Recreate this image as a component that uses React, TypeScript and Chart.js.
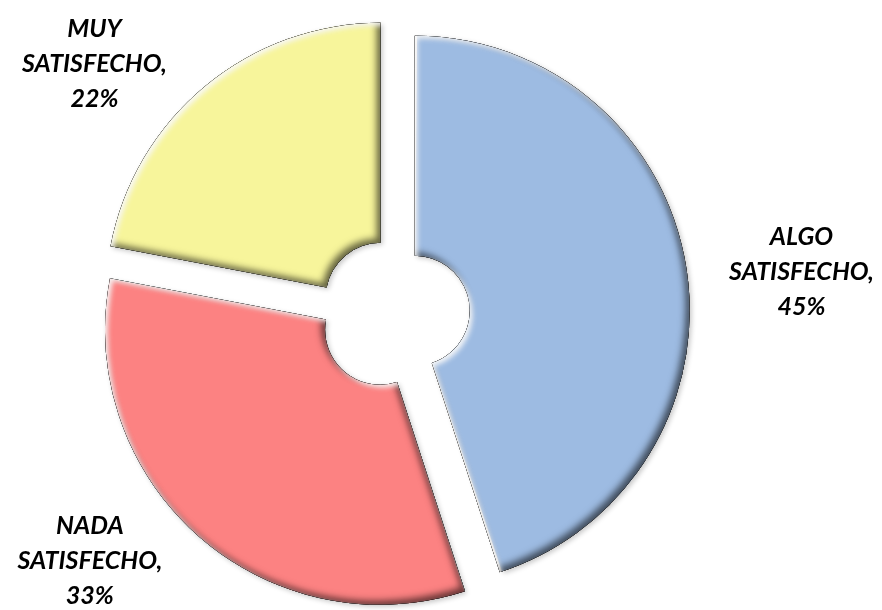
import React, { useEffect, useRef } from 'react';
import { Chart, registerables } from 'chart.js';
Chart.register(...registerables);

const CATEGORIES = ['ALGO SATISFECHO', 'NADA SATISFECHO', 'MUY SATISFECHO'];
const VALUES = [45, 33, 22];
const COLORS = ['#9DBBE2', '#FC8282', '#F7F59B'];
// label placement (clockwise angle from top in degrees, distance in outer radii)
const LABEL_ANGLE = [84, 231, 310];
const LABEL_DIST = [1.49, 1.423, 1.422];

const EXPLODE = 21;
const RADIUS = 275;
const CUTOUT = '20%';
const FONT = 'italic bold 25px Lato, "Liberation Sans", sans-serif';
const LINE_H = 35;

function arcGeom(arc: any) {
  const off = (arc.options.offset || 0) / 4;
  const fix = 1 - Math.sin(Math.min(Math.PI, arc.circumference || 0));
  const ro = off * fix;
  const mid = (arc.startAngle + arc.endAngle) / 2;
  return {
    ro,
    cx: arc.x + Math.cos(mid) * off,
    cy: arc.y + Math.sin(mid) * off,
    R: arc.outerRadius + ro,
    r: arc.innerRadius + ro,
  };
}

function innerShadow(ctx: CanvasRenderingContext2D, p: Path2D, color: string, blur: number, dx: number, dy: number) {
  ctx.save();
  ctx.clip(p);
  const o = new Path2D();
  o.rect(-3000, -3000, 8000, 8000);
  o.addPath(p);
  ctx.shadowColor = color;
  ctx.shadowBlur = blur;
  ctx.shadowOffsetX = dx;
  ctx.shadowOffsetY = dy;
  ctx.fillStyle = '#000';
  ctx.fill(o, 'evenodd');
  ctx.restore();
}

const bevelPlugin = {
  id: 'bevel',
  beforeDatasetsDraw(chart: any) {
    const meta = chart.getDatasetMeta(0);
    const ctrl: any = meta.controller;
    meta.data.forEach((arc: any) => {
      const off = (arc.options.offset || 0) / 4;
      const fix = 1 - Math.sin(Math.min(Math.PI, arc.circumference || 0));
      const ro = off * fix;
      arc.outerRadius = ctrl.outerRadius - ro;
      arc.innerRadius = ctrl.innerRadius - ro;
    });
    const ctx = chart.ctx;
    ctx.save();
    ctx.shadowColor = 'rgba(0,0,0,0.22)';
    ctx.shadowBlur = 5;
    ctx.shadowOffsetX = 2;
    ctx.shadowOffsetY = 2;
  },
  afterDatasetsDraw(chart: any) {
    const ctx: CanvasRenderingContext2D = chart.ctx;
    ctx.restore();
    const meta = chart.getDatasetMeta(0);
    meta.data.forEach((arc: any) => {
      const g = arcGeom(arc);
      const p = new Path2D();
      p.arc(g.cx, g.cy, g.R, arc.startAngle, arc.endAngle);
      p.arc(g.cx, g.cy, g.r, arc.endAngle, arc.startAngle, true);
      p.closePath();
      innerShadow(ctx, p, 'rgba(0,0,0,0.2)', 7, 0, 0);
      innerShadow(ctx, p, 'rgba(0,0,0,0.55)', 7, -4, -4);
      innerShadow(ctx, p, 'rgba(255,255,255,0.9)', 5, 3, 3);
    });
  },
};

const labelPlugin = {
  id: 'sliceLabels',
  afterDraw(chart: any) {
    const ctx: CanvasRenderingContext2D = chart.ctx;
    const meta = chart.getDatasetMeta(0);
    ctx.save();
    ctx.font = FONT;
    ctx.fillStyle = '#000';
    ctx.textAlign = 'center';
    ctx.textBaseline = 'alphabetic';
    meta.data.forEach((arc: any, i: number) => {
      const R = (meta.controller as any).outerRadius;
      const a = (LABEL_ANGLE[i] * Math.PI) / 180;
      const lx = arc.x + Math.sin(a) * R * LABEL_DIST[i];
      const ly = arc.y - Math.cos(a) * R * LABEL_DIST[i];
      const words = CATEGORIES[i].split(' ');
      const lines = [words[0], words.slice(1).join(' ') + ',', VALUES[i] + '%'];
      lines.forEach((t, k) => {
        ctx.fillText(t, lx, ly + (k - 1) * LINE_H + 9);
      });
    });
    ctx.restore();
  },
};

export default function App() {
  const ref = useRef<HTMLCanvasElement>(null);
  useEffect(() => {
    const chart = new Chart(ref.current as HTMLCanvasElement, {
      type: 'doughnut',
      data: {
        labels: CATEGORIES,
        datasets: [
          {
            data: VALUES,
            backgroundColor: COLORS,
            borderWidth: 0,
            offset: EXPLODE * 4,
            hoverOffset: 0,
          } as any,
        ],
      },
      options: {
        responsive: false,
        animation: false,
        radius: RADIUS,
        cutout: CUTOUT,
        events: [],
        layout: { padding: { left: 0, right: 94, top: 18, bottom: 0 } },
        plugins: { legend: { display: false }, tooltip: { enabled: false } },
      } as any,
      plugins: [bevelPlugin, labelPlugin],
    });
    return () => chart.destroy();
  }, []);
  return (
    <canvas
      ref={ref}
      width={882}
      height={610}
      style={{ position: 'absolute', left: 0, top: 0, display: 'block', background: '#fff' }}
    />
  );
}
